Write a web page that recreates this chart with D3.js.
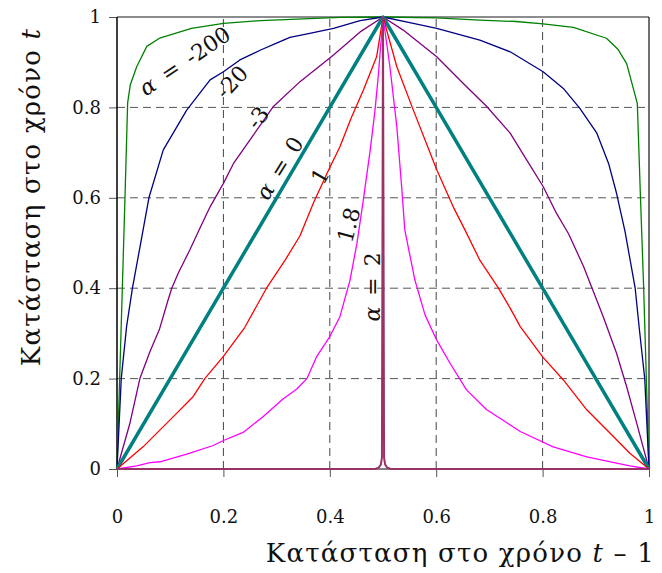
<!DOCTYPE html>
<html>
<head>
<meta charset="utf-8">
<script src="https://cdn.jsdelivr.net/npm/d3@7"></script>
<style>
    body { margin: 0; background: #fff; }
    svg { display: block; }
</style>
</head>
<body>
<div id="chart"></div>
<script type="text/javascript">
    // Data: [state at t-1, state at t]
    alpha_m200 = [[0, 0], [0.005, 0.2], [0.01, 0.4], [0.015, 0.6], [0.02, 0.81], [0.025, 0.85], [0.037, 0.89],
        [0.056, 0.935], [0.08, 0.953], [0.14, 0.975], [0.2, 0.986], [0.27, 0.992], [0.35, 0.996], [0.42, 0.999],
        [0.5, 1], [0.6, 0.998], [0.682, 0.993], [0.75, 0.99], [0.801, 0.985], [0.858, 0.977], [0.92, 0.953],
        [0.942, 0.928], [0.958, 0.897], [0.978, 0.809], [0.984, 0.6], [0.99, 0.4], [0.995, 0.2], [1, 0]]

    alpha_m20 = [[0, 0], [0.008, 0.2], [0.018, 0.315], [0.029, 0.4], [0.043, 0.49], [0.06, 0.6], [0.087, 0.706],
        [0.11, 0.752], [0.131, 0.794], [0.175, 0.861], [0.2, 0.879], [0.231, 0.905], [0.27, 0.927], [0.3, 0.942],
        [0.325, 0.955], [0.36, 0.963], [0.407, 0.975], [0.457, 0.992], [0.5, 1],
        [0.557, 0.986], [0.601, 0.975], [0.682, 0.949], [0.739, 0.923], [0.801, 0.879], [0.839, 0.842],
        [0.87, 0.798], [0.902, 0.743], [0.924, 0.676], [0.939, 0.61], [0.955, 0.525], [0.974, 0.4],
        [0.982, 0.308], [0.992, 0.2], [1, 0]]

    alpha_m3 = [[0, 0], [0.024, 0.1], [0.043, 0.2], [0.062, 0.26], [0.08, 0.31], [0.096, 0.374], [0.103, 0.4],
        [0.115, 0.433], [0.137, 0.485], [0.156, 0.533], [0.175, 0.58], [0.2, 0.632], [0.219, 0.676], [0.25, 0.728],
        [0.294, 0.802], [0.344, 0.857], [0.407, 0.916], [0.457, 0.967], [0.5, 1],
        [0.538, 0.971], [0.601, 0.912], [0.651, 0.853], [0.695, 0.802], [0.739, 0.743], [0.77, 0.684],
        [0.801, 0.625], [0.826, 0.566], [0.849, 0.52], [0.877, 0.448], [0.914, 0.337], [0.939, 0.256],
        [0.958, 0.182], [0.977, 0.101], [1, 0]]

    alpha_0 = [[0, 0], [0.1, 0.2], [0.2, 0.4], [0.3, 0.6], [0.4, 0.8], [0.5, 1],
        [0.6, 0.8], [0.7, 0.6], [0.8, 0.4], [0.9, 0.2], [1, 0]]

    alpha_1 = [[0, 0], [0.049, 0.049], [0.112, 0.123], [0.143, 0.16], [0.165, 0.2], [0.2, 0.249], [0.24, 0.313],
        [0.281, 0.4], [0.316, 0.462], [0.344, 0.516], [0.369, 0.588], [0.394, 0.652], [0.419, 0.713],
        [0.441, 0.779], [0.463, 0.838], [0.488, 0.912], [0.5, 1],
        [0.526, 0.89], [0.557, 0.794], [0.601, 0.662], [0.632, 0.58], [0.654, 0.529], [0.682, 0.462],
        [0.717, 0.4], [0.739, 0.356], [0.758, 0.315], [0.8, 0.248], [0.839, 0.197], [0.883, 0.131],
        [0.927, 0.079], [0.964, 0.035], [1, 0]]

    alpha_18 = [[0, 0], [0.037, 0.007], [0.062, 0.014], [0.081, 0.016], [0.131, 0.033], [0.181, 0.052],
        [0.2, 0.063], [0.237, 0.081], [0.275, 0.116], [0.312, 0.155], [0.338, 0.177], [0.357, 0.2],
        [0.375, 0.248], [0.4, 0.293], [0.419, 0.337], [0.438, 0.418], [0.451, 0.499], [0.463, 0.595],
        [0.476, 0.706], [0.485, 0.794], [0.491, 0.868], [0.5, 1],
        [0.513, 0.89], [0.526, 0.757], [0.535, 0.625], [0.541, 0.529], [0.551, 0.47], [0.56, 0.418],
        [0.579, 0.341], [0.601, 0.285], [0.626, 0.234], [0.657, 0.175], [0.695, 0.131], [0.758, 0.083],
        [0.82, 0.049], [0.883, 0.027], [0.939, 0.013], [0.964, 0.007], [1, 0]]

    alpha_2 = [[0, 0], [0.485, 0], [0.492, 0.003], [0.496, 0.01], [0.498, 0.025], [0.5, 1],
        [0.502, 0.025], [0.504, 0.01], [0.508, 0.003], [0.515, 0], [1, 0]]

    series = [alpha_m200, alpha_m20, alpha_m3, alpha_0, alpha_1, alpha_18, alpha_2]
    colors = ["#008000", "#000080", "#800080", "#008080", "#ff0000", "#ff00ff", "#993366"]
    widths = [1.3, 1.3, 1.3, 3.5, 1.3, 1.3, 2]

    xTicks = [0, 0.2, 0.4, 0.6, 0.8, 1]
    yTicks = [0, 0.2, 0.4, 0.6, 0.8, 1]
    gridTicks = [0.2, 0.4, 0.6, 0.8]

    labelTexts = ["α = -200", "-20", "-3", "α = 0", "1", "1.8", "α = 2"]
    labelAt = [[0.127, 0.903], [0.216, 0.856], [0.265, 0.777], [0.305, 0.666], [0.382, 0.648], [0.436, 0.54], [0.479, 0.403]]
    labelAngles = [-34, -47, -52, -58, -60, -75, -90]

    // Setup Chart
    canvas = ({width: 662, height: 573})
    margin = ({top: 17, right: 13, bottom: 104, left: 117})
    serif = "'DejaVu Serif', 'Liberation Serif', serif"

    x = d3.scaleLinear()
        .domain([0, 1])
        .range([margin.left, canvas.width - margin.right])

    y = d3.scaleLinear()
        .domain([0, 1])
        .range([canvas.height - margin.bottom, margin.top])

    var svg = d3.select("div#chart").append("svg")
        .attr("width", canvas.width)
        .attr("height", canvas.height)
        .attr("viewBox", [0, 0, canvas.width, canvas.height])

    // grid (dashed, inside)
    svg.append("g")
        .selectAll("line.vgrid")
        .data(gridTicks)
        .join("line")
        .attr("x1", d => x(d)).attr("x2", d => x(d))
        .attr("y1", y(0)).attr("y2", y(1))
        .attr("stroke", "#444")
        .attr("stroke-width", 1)
        .attr("stroke-dasharray", "8,5")

    svg.append("g")
        .selectAll("line.hgrid")
        .data(gridTicks)
        .join("line")
        .attr("y1", d => y(d)).attr("y2", d => y(d))
        .attr("x1", x(0)).attr("x2", x(1))
        .attr("stroke", "#555")
        .attr("stroke-width", 1)
        .attr("stroke-dasharray", "8,5")

    // axes, ticks outside
    xAxis = g => g
        .attr("transform", `translate(0,${y(0)})`)
        .call(d3.axisBottom(x).tickValues(xTicks).tickFormat(d3.format(".1~f")).tickSize(9).tickPadding(32))
        .call(g => g.select(".domain").remove())
        .call(g => g.selectAll(".tick line").attr("stroke", "#555").attr("stroke-dasharray", "8,5"))
        .call(g => g.selectAll(".tick text").attr("font-family", serif).attr("font-size", 18).attr("fill", "#111"))

    yAxis = g => g
        .attr("transform", `translate(${x(0)},0)`)
        .call(d3.axisLeft(y).tickValues(yTicks).tickFormat(d3.format(".1~f")).tickSize(9).tickPadding(7))
        .call(g => g.select(".domain").remove())
        .call(g => g.selectAll(".tick line").attr("stroke", "#555").attr("stroke-dasharray", "8,5"))
        .call(g => g.selectAll(".tick text").attr("font-family", serif).attr("font-size", 18).attr("fill", "#111"))

    svg.append("g").call(xAxis)
    svg.append("g").call(yAxis)

    // frame
    svg.append("line")
        .attr("x1", x(0)).attr("x2", x(1)).attr("y1", y(1)).attr("y2", y(1))
        .attr("stroke", "#666").attr("stroke-width", 1.5)
    svg.append("line")
        .attr("x1", x(1)).attr("x2", x(1)).attr("y1", y(1)).attr("y2", y(0))
        .attr("stroke", "#111").attr("stroke-width", 1.2)
    svg.append("line")
        .attr("x1", x(0)).attr("x2", x(0)).attr("y1", y(1)).attr("y2", y(0))
        .attr("stroke", "#000").attr("stroke-width", 1.5)
    svg.append("line")
        .attr("x1", x(0)).attr("x2", x(1)).attr("y1", y(0)).attr("y2", y(0))
        .attr("stroke", "#000").attr("stroke-width", 1)

    // curves
    line = d3.line()
        .x(d => x(d[0]))
        .y(d => y(d[1]))

    svg.append("g")
        .selectAll("path")
        .data(series)
        .join("path")
        .attr("fill", "none")
        .attr("stroke", (d, i) => colors[i])
        .attr("stroke-width", (d, i) => widths[i])
        .attr("stroke-linejoin", "round")
        .attr("d", line)

    // curve labels
    svg.append("g")
        .selectAll("text")
        .data(labelTexts)
        .join("text")
        .attr("transform", (d, i) => `translate(${x(labelAt[i][0])},${y(labelAt[i][1])}) rotate(${labelAngles[i]})`)
        .attr("text-anchor", "middle")
        .attr("dominant-baseline", "central")
        .attr("font-family", serif)
        .attr("font-size", 22)
        .attr("fill", "#111")
        .each(function(d) {
            var t = d3.select(this)
            if (d.startsWith("α")) {
                t.append("tspan").attr("font-style", "italic").text("α")
                t.append("tspan").text(d.slice(1).replace(/ /g, "\u2002"))
            } else {
                t.text(d)
            }
        })

    // axis titles
    xTitle = svg.append("text")
        .attr("x", 655)
        .attr("y", 562)
        .attr("text-anchor", "end")
        .attr("font-family", serif)
        .attr("font-size", 26)
        .attr("letter-spacing", 1.2)
        .attr("fill", "#111")
    xTitle.append("tspan").text("Κατάσταση στο χρόνο ")
    xTitle.append("tspan").attr("font-style", "italic").text("t")
    xTitle.append("tspan").text(" – 1")

    yTitle = svg.append("text")
        .attr("transform", "translate(40,197) rotate(-90)")
        .attr("text-anchor", "middle")
        .attr("font-family", serif)
        .attr("font-size", 26)
        .attr("letter-spacing", 1.2)
        .attr("fill", "#111")
    yTitle.append("tspan").text("Κατάσταση στο χρόνο ")
    yTitle.append("tspan").attr("font-style", "italic").text("t")
</script>
</body>
</html>
